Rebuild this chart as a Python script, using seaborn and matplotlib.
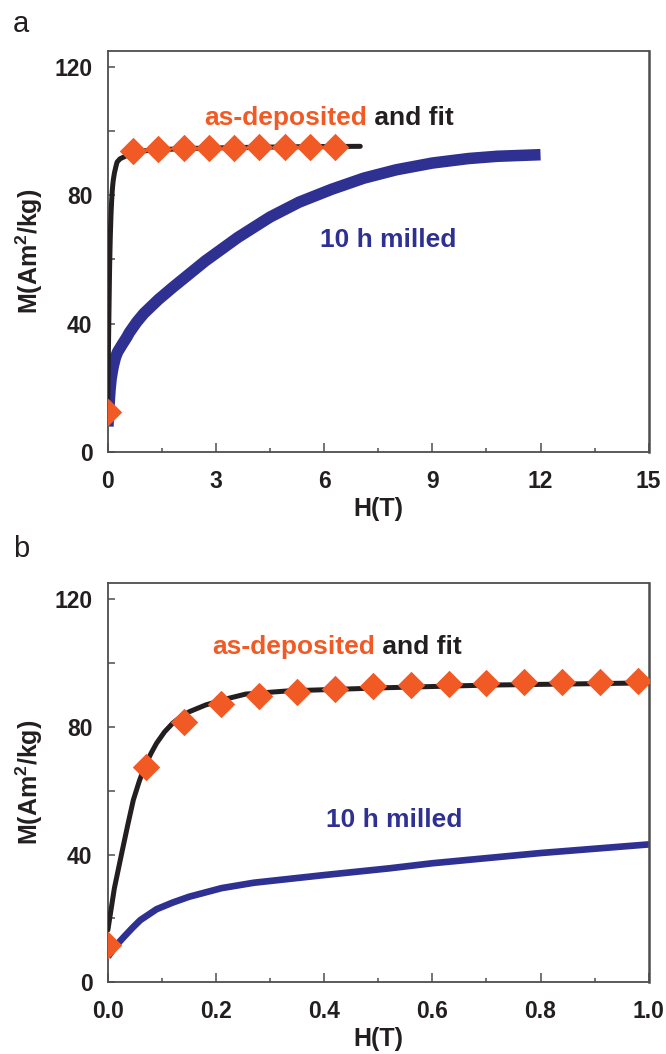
import numpy as np
import pandas as pd
import matplotlib
matplotlib.use("Agg")
import matplotlib.pyplot as plt
from matplotlib.ticker import MultipleLocator, FuncFormatter
import seaborn as sns

# ---------------- data ----------------
# fit curve of the as-deposited sample
fit_H = [0, 0.012, 0.0255, 0.037, 0.047, 0.058, 0.068, 0.08, 0.09, 0.105, 0.12,
         0.135, 0.151, 0.181, 0.224, 0.255, 0.334, 0.518, 0.7, 1.0, 1.5, 2.5,
         4.0, 5.5, 7.0]
fit_M = [16.4, 29.5, 40.4, 49.5, 57.1, 63.0, 67.6, 71.8, 74.9, 78.5, 81.2,
         83.2, 84.8, 86.9, 89.0, 90.3, 91.3, 92.3, 93.1, 93.8, 94.2, 94.6,
         94.9, 95.1, 95.2]

# as-deposited measured points (panel a, wide field range)
dep_a_H = [0, 0.7, 1.4, 2.1, 2.8, 3.5, 4.2, 4.9, 5.6, 6.3]
dep_a_M = [12.5, 93.8, 94.5, 94.7, 94.8, 94.8, 94.9, 94.9, 95.0, 95.0]

# as-deposited measured points (panel b, low field range)
dep_b_H = [0, 0.07, 0.14, 0.21, 0.28, 0.35, 0.42, 0.49, 0.56, 0.63,
           0.70, 0.77, 0.84, 0.91, 0.98]
dep_b_M = [11.7, 67.6, 81.4, 87.1, 89.7, 91.1, 91.9, 92.7, 93.2, 93.5,
           93.8, 94.0, 94.1, 94.2, 94.3]

# 10 h milled sample
mil_H = [0, 0.015, 0.03, 0.045, 0.06, 0.09, 0.12, 0.15, 0.21, 0.27, 0.4, 0.52,
         0.6, 0.8, 1.0, 1.4, 1.8, 2.7, 3.6, 4.5, 5.3, 6.2, 7.1, 8.0, 9.0,
         10.0, 10.8, 12.0]
mil_M = [8.0, 11.5, 14.3, 17.0, 19.5, 22.9, 25.0, 26.8, 29.5, 31.2, 33.6, 35.7,
         37.3, 40.5, 43.2, 47.5, 51.3, 59.5, 66.8, 73.2, 77.8, 81.8, 85.3,
         87.9, 90.0, 91.4, 92.1, 92.6]

panel_letters = ["a", "b"]
x_limits = [(0, 15), (0, 1.0)]
x_major = [3, 0.2]
x_minor = [1.5, 0.1]
x_fmt = ["{:.0f}", "{:.1f}"]
y_limits = (0, 125)
xlabel = "H(T)"
ylabel = r"M(Am$^\mathbf{2}$/kg)"
label_dep = "as-deposited"
label_fit = " and fit"
label_mil = "10 h milled"

ORANGE = "#F15A24"
BLUE = "#2E3192"
BLACK = "#231F20"
SPINE = "#4D4D4D"

# ---------------- style ----------------
sns.set_theme(style="ticks")
plt.rcParams["font.family"] = ["Liberation Sans", "DejaVu Sans"]
plt.rcParams["mathtext.fontset"] = "custom"
plt.rcParams["mathtext.rm"] = "Liberation Sans"
plt.rcParams["mathtext.bf"] = "Liberation Sans:bold"
plt.rcParams["mathtext.default"] = "bf"

fig = plt.figure(figsize=(6.66, 10.54), dpi=100)
ax_a = fig.add_axes([0.162, 0.571, 0.812, 0.381])
ax_b = fig.add_axes([0.162, 0.068, 0.812, 0.3786])
axes = [ax_a, ax_b]

fit_df = pd.DataFrame({"H": fit_H, "M": fit_M})
mil_df = pd.DataFrame({"H": mil_H, "M": mil_M})
dep_dfs = [pd.DataFrame({"H": dep_a_H, "M": dep_a_M}),
           pd.DataFrame({"H": dep_b_H, "M": dep_b_M})]
mil_lw = [8.3, 4.8]
fit_lw = [3.6, 3.6]

for i, ax in enumerate(axes):
    sns.lineplot(data=mil_df, x="H", y="M", ax=ax, color=BLUE, lw=mil_lw[i],
                 sort=False, estimator=None, solid_capstyle="butt",
                 solid_joinstyle="round", zorder=2)
    sns.lineplot(data=fit_df, x="H", y="M", ax=ax, color=BLACK, lw=fit_lw[i],
                 sort=False, estimator=None, solid_capstyle="round",
                 solid_joinstyle="round", zorder=3)
    sns.scatterplot(data=dep_dfs[i], x="H", y="M", ax=ax, color=ORANGE,
                    marker="D", s=195, linewidth=0, zorder=4)

    ax.set_xlim(*x_limits[i])
    ax.set_ylim(*y_limits)
    ax.xaxis.set_major_locator(MultipleLocator(x_major[i]))
    ax.xaxis.set_minor_locator(MultipleLocator(x_minor[i]))
    fmt = x_fmt[i]
    ax.xaxis.set_major_formatter(FuncFormatter(lambda v, p, f=fmt: f.format(v)))
    ax.yaxis.set_major_locator(MultipleLocator(20))
    ax.yaxis.set_major_formatter(
        FuncFormatter(lambda v, p: f"{v:.0f}" if abs(v % 40) < 1e-6 else ""))

    for side in ["left", "right", "top", "bottom"]:
        ax.spines[side].set_visible(True)
        ax.spines[side].set_color(SPINE)
        ax.spines[side].set_linewidth(1.3)
    ax.spines["right"].set_linewidth(1.8)

    ax.tick_params(axis="x", which="major", direction="in", length=6.5,
                   width=1.1, color=SPINE, pad=12.5, labelsize=16.5)
    ax.tick_params(axis="x", which="minor", direction="in", length=3.2,
                   width=1.1, color=SPINE)
    ax.tick_params(axis="y", which="major", direction="in", length=5,
                   width=1.1, color=SPINE, pad=11, labelsize=16.5)
    ax.tick_params(axis="both", labelcolor=BLACK)
    for lab in ax.get_xticklabels() + ax.get_yticklabels():
        lab.set_fontweight("bold")

    ax.set_xlabel(xlabel, fontsize=18, fontweight="bold", color=BLACK,
                  labelpad=3)
    ax.set_ylabel(ylabel, fontsize=18, fontweight="bold", color=BLACK,
                  labelpad=7)
    ax.grid(False)

# annotations
ANN = 19
ax_a.text(2.67, 104, label_dep, color=ORANGE, fontsize=ANN,
          fontweight="bold", va="center", ha="left")
ax_a.annotate(label_fit, xy=(1, 0.5), xycoords=ax_a.texts[-1],
              color=BLACK, fontsize=ANN, fontweight="bold",
              va="center", ha="left")
ax_a.text(5.89, 66, label_mil, color=BLUE, fontsize=ANN,
          fontweight="bold", va="center", ha="left")

ax_b.text(0.193, 105, label_dep, color=ORANGE, fontsize=ANN,
          fontweight="bold", va="center", ha="left")
ax_b.annotate(label_fit, xy=(1, 0.5), xycoords=ax_b.texts[-1],
              color=BLACK, fontsize=ANN, fontweight="bold",
              va="center", ha="left")
ax_b.text(0.404, 51, label_mil, color=BLUE, fontsize=ANN,
          fontweight="bold", va="center", ha="left")

fig.text(0.0195, 0.9696, panel_letters[0], fontsize=21, color=BLACK,
         ha="left", va="baseline")
fig.text(0.0195, 0.4715, panel_letters[1], fontsize=21, color=BLACK,
         ha="left", va="baseline")

fig.savefig("out.png", dpi=100)
